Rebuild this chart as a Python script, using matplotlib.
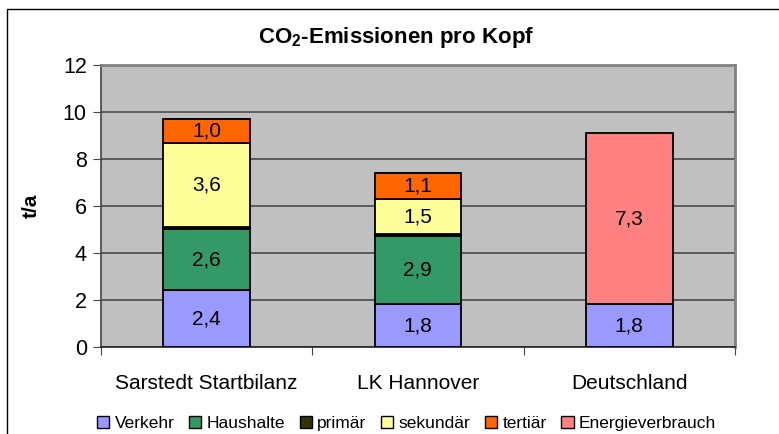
import numpy as np
import matplotlib.pyplot as plt
from matplotlib.patches import Patch, Rectangle

plt.rcParams['font.family'] = ['Liberation Sans', 'DejaVu Sans']
plt.rcParams['mathtext.fontset'] = 'custom'
plt.rcParams['mathtext.rm'] = 'Liberation Sans'
plt.rcParams['mathtext.bf'] = 'Liberation Sans:bold'

categories = ["Sarstedt Startbilanz", "LK Hannover", "Deutschland"]
series = ["Verkehr", "Haushalte", "primär", "sekundär", "tertiär", "Energieverbrauch"]
verkehr = [2.4, 1.8, 1.8]
haushalte = [2.6, 2.9, 0.0]
primaer = [0.1, 0.1, 0.0]
sekundaer = [3.6, 1.5, 0.0]
tertiaer = [1.0, 1.1, 0.0]
energie = [0.0, 0.0, 7.3]
colors = ["#9999FF", "#339966", "#333300", "#FFFF99", "#FF6600", "#FF8080"]
show_label = [True, True, False, True, True, True]

fig = plt.figure(figsize=(7.79, 4.34), dpi=100)
ax = fig.add_axes([0.1293, 0.2012, 0.8142, 0.6483])
ax.set_facecolor("#C0C0C0")

x = np.arange(len(categories))
bottom = np.zeros(len(categories))
for vals, col, lab in zip([verkehr, haushalte, primaer, sekundaer, tertiaer, energie], colors, show_label):
    vals = np.array(vals)
    ax.bar(x, vals, 0.41, bottom=bottom, color=col, edgecolor="black", linewidth=1.3, zorder=3)
    if lab:
        for xi, v, b in zip(x, vals, bottom):
            if v > 0:
                ax.text(xi, b + v / 2, f"{v:.1f}".replace(".", ","), ha="center", va="center",
                        fontsize=15, zorder=4)
    bottom += vals

ax.set_xlim(-0.5, 2.5)
ax.set_ylim(0, 12)
ax.set_yticks(np.arange(0, 13, 2))
ax.set_yticklabels([str(v) for v in range(0, 13, 2)], fontsize=15.5)
ax.set_xticks([-0.5, 0.5, 1.5, 2.5], minor=False)
ax.set_xticklabels([])
ax.set_xticks(x, minor=True)
ax.set_xticklabels(categories, minor=True, fontsize=15)
ax.tick_params(axis="x", which="minor", length=0, pad=20)
ax.tick_params(axis="x", which="major", length=6, color="#444444", direction="out")
ax.tick_params(axis="y", length=6, color="#444444", direction="out", pad=4)
ax.yaxis.grid(True, color="#4a4a4a", linewidth=1.2, zorder=1)
ax.set_axisbelow(True)
for s in ["top", "right"]:
    ax.spines[s].set_color("#808080")
    ax.spines[s].set_linewidth(2)
ax.spines["left"].set_color("#444444")
ax.spines["bottom"].set_color("#222222")
ax.spines["left"].set_linewidth(1.2)
ax.spines["bottom"].set_linewidth(1.2)

ax.set_ylabel("t/a", fontsize=15, fontweight="bold", labelpad=16)

fig.text(0.509, 0.913, r"CO$_\mathbf{2}$-Emissionen pro Kopf", ha="center", va="center",
         fontsize=16, fontweight="bold")

handles = [Patch(facecolor=c, edgecolor="black", linewidth=1.0) for c in colors]
fig.legend(handles, series, loc="center", bbox_to_anchor=(0.522, 0.025), ncol=6,
           frameon=False, fontsize=12.5, handlelength=0.7, handleheight=0.7,
           handletextpad=0.3, columnspacing=0.85)

fig.patches.append(Rectangle((0.009, -0.1), 1.2, 1.079, transform=fig.transFigure,
                             fill=False, edgecolor="black", linewidth=1.0))

fig.savefig("out.png", dpi=100)
